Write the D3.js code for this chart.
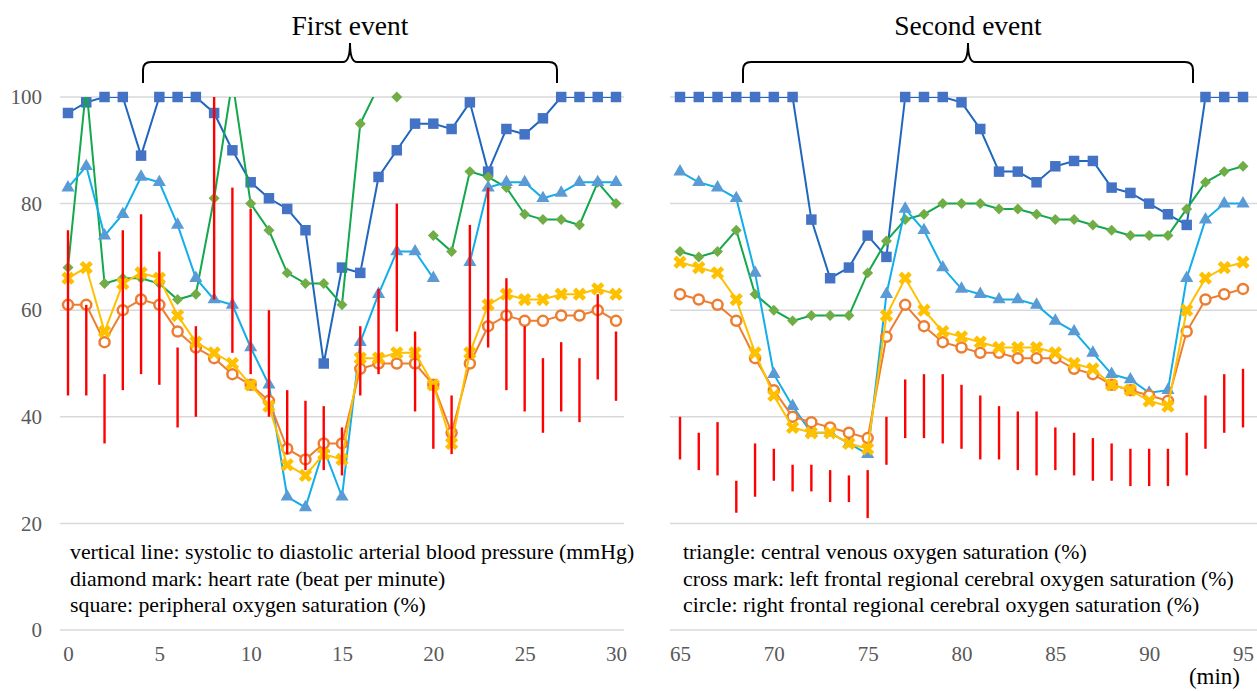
<!DOCTYPE html>
<html>
<head>
<meta charset="utf-8">
<script src="https://cdn.jsdelivr.net/npm/d3@7"></script>
<style>
  body { margin: 0; background: #fff; }
  svg { font-family: "Liberation Serif", "Times New Roman", serif; }
</style>
</head>
<body>
<div id="chart-area"></div>
<script>
// ---- data ----
var minutesA = d3.range(0, 31);
var minutesB = d3.range(65, 96);

// first event (0-30 min)
var spo2A = [97,99,100,100,89,100,100,100,97,90,84,81,79,75,50,68,67,85,90,95,95,94,99,86,94,93,96,100,100,100,100];
var hrA   = [68,102,65,66,66,65,62,63,81,103,80,75,67,65,65,61,95,102,100,null,74,71,86,85,83,78,77,77,76,84,80];
var svo2A = [83,87,74,78,85,84,76,66,62,61,53,46,25,23,34,25,54,63,71,71,66,null,69,83,84,84,81,82,84,84,84];
var leftA = [66,68,56,65,67,66,59,54,52,50,46,42,31,29,33,32,51,51,52,52,46,35,52,61,63,62,62,63,63,64,63];
var rightA= [61,61,54,60,62,61,56,53,51,48,46,43,34,32,35,35,49,50,50,50,46,37,50,57,59,58,58,59,59,60,58];
var sysA  = [75,61,48,75,78,71,53,57,100,83,79,60,45,43,42,38,57,64,80,56,46,44,76,83,66,57,51,54,51,63,56];
var diaA  = [44,44,35,45,48,46,38,40,62,52,48,40,33,30,30,29,44,48,56,41,34,33,51,53,45,41,37,41,39,47,43];

// second event (65-95 min)
var spo2B = [100,100,100,100,100,100,100,77,66,68,74,70,100,100,100,99,94,86,86,84,87,88,88,83,82,80,78,76,100,100,100];
var hrB   = [71,70,71,75,63,60,58,59,59,59,67,73,77,78,80,80,80,79,79,78,77,77,76,75,74,74,74,79,84,86,87];
var svo2B = [86,84,83,81,67,48,42,37,37,35,33,63,79,75,68,64,63,62,62,61,58,56,52,48,47,44.5,45,66,77,80,80];
var leftB = [69,68,67,62,52,44,38,37,37,35,34,59,66,60,56,55,54,53,53,53,52,50,49,46,45,43,42,60,66,68,69];
var rightB= [63,62,61,58,51,45,40,39,38,37,36,55,61,57,54,53,52,52,51,51,51,49,48,46,45,44,43,56,62,63,64];
var sysB  = [40,37,39,28,35,34,31,31,30,29,30,40,47,48,48,46,44,42,41,41,38,37,36,35,34,34,34,37,44,48,49];
var diaB  = [32,30,29,22,25,28,26,26,24,24,21,31,36,36,35,34,32,32,30,29,30,29,28,28,27,27,27,29,34,37,38];

var yTicks = [0, 20, 40, 60, 80, 100];
var xTicksA = [0, 5, 10, 15, 20, 25, 30];
var xTicksB = [65, 70, 75, 80, 85, 90, 95];

var legendLeft = [
  "vertical line: systolic to diastolic arterial blood pressure (mmHg)",
  "diamond mark: heart rate (beat per minute)",
  "square: peripheral oxygen saturation (%)"
];
var legendRight = [
  "triangle: central venous oxygen saturation (%)",
  "cross mark: left frontal regional cerebral oxygen saturation (%)",
  "circle: right frontal regional cerebral oxygen saturation (%)"
];

// ---- layout ----
var W = 1257, H = 691;
var serif = "Liberation Serif, Times New Roman, serif";
var svg = d3.select("#chart-area").append("svg")
    .attr("width", W).attr("height", H);

var y = d3.scaleLinear().domain([0, 100]).range([630, 97]);
var xA = d3.scaleLinear().domain([0, 30]).range([68, 616]);
var xB = d3.scaleLinear().domain([65, 95]).range([680, 1243]);

var panels = [
  { x: xA, mins: minutesA, grid: [60, 624], ticks: xTicksA, spo2: spo2A, hr: hrA, svo2: svo2A, left: leftA, right: rightA, sys: sysA, dia: diaA, id: "a" },
  { x: xB, mins: minutesB, grid: [670, 1257], ticks: xTicksB, spo2: spo2B, hr: hrB, svo2: svo2B, left: leftB, right: rightB, sys: sysB, dia: diaB, id: "b" }
];

// Y axis labels (left only)
var yAxis = d3.axisLeft(y).tickValues(yTicks).tickSize(0).tickPadding(18);
svg.append("g")
    .attr("transform", "translate(60,0)")
    .call(yAxis)
    .call(function(g){ g.select(".domain").remove(); })
    .selectAll("text")
        .attr("font-size", "21px")
        .attr("font-family", serif)
        .attr("fill", "#595959");

var sym = function(type, size, rot) {
    return { path: d3.symbol().type(type).size(size)(), rot: rot || 0 };
};
var markers = {
    square:  sym(d3.symbolSquare, 110),
    triangle: sym(d3.symbolTriangle, 75),
    diamond: sym(d3.symbolSquare, 60, 45),
    cross:   sym(d3.symbolCross, 110, 45)
};

panels.forEach(function(p){
    var g = svg.append("g");

    // gridlines
    g.selectAll(".grid").data(yTicks).enter().append("line")
        .attr("x1", p.grid[0]).attr("x2", p.grid[1])
        .attr("y1", function(d){ return y(d); })
        .attr("y2", function(d){ return y(d); })
        .attr("stroke", "#d9d9d9")
        .attr("stroke-width", 1.5);

    // x axis
    var xAxis = d3.axisBottom(p.x).tickValues(p.ticks).tickSize(0).tickPadding(16)
        .tickFormat(d3.format("d"));
    g.append("g")
        .attr("transform", "translate(0,630)")
        .call(xAxis)
        .call(function(a){ a.select(".domain").remove(); })
        .selectAll("text")
            .attr("font-size", "21px")
            .attr("font-family", serif)
            .attr("fill", "#595959");

    // clip to the plot area top (value 100)
    svg.append("clipPath").attr("id", "clip-" + p.id)
        .append("rect")
        .attr("x", p.grid[0] - 20).attr("y", y(100))
        .attr("width", p.grid[1] - p.grid[0] + 40).attr("height", y(0) - y(100));

    function series(vals, lineColor, marker, markColor) {
        var pts = p.mins.map(function(m, i){ return { m: m, v: vals[i] }; });
        var line = d3.line()
            .defined(function(d){ return d.v != null; })
            .x(function(d){ return p.x(d.m); })
            .y(function(d){ return y(d.v); });
        g.append("path")
            .datum(pts)
            .attr("clip-path", "url(#clip-" + p.id + ")")
            .attr("fill", "none")
            .attr("stroke", lineColor)
            .attr("stroke-width", 2)
            .attr("d", line);

        var shown = pts.filter(function(d){ return d.v != null && d.v <= 100; });
        if (marker == "circle") {
            g.selectAll(null).data(shown).enter().append("circle")
                .attr("cx", function(d){ return p.x(d.m); })
                .attr("cy", function(d){ return y(d.v); })
                .attr("r", 5)
                .attr("fill", "#fff")
                .attr("stroke", markColor)
                .attr("stroke-width", 2.5);
        } else {
            var mk = markers[marker];
            g.selectAll(null).data(shown).enter().append("path")
                .attr("d", mk.path)
                .attr("transform", function(d){
                    return "translate(" + p.x(d.m) + "," + y(d.v) + ") rotate(" + mk.rot + ")";
                })
                .attr("fill", markColor);
        }
    }

    series(p.spo2, "#1f67be", "square", "#4472c4");
    series(p.hr, "#13a84b", "diamond", "#70ad47");
    series(p.svo2, "#12aeea", "triangle", "#5b9bd5");
    series(p.right, "#ed7d31", "circle", "#ed7d31");
    series(p.left, "#ffc000", "cross", "#ffc000");

    // blood pressure: systolic to diastolic
    g.selectAll(null).data(p.mins).enter().append("line")
        .attr("x1", function(d){ return p.x(d); })
        .attr("x2", function(d){ return p.x(d); })
        .attr("y1", function(d, i){ return y(p.sys[i]); })
        .attr("y2", function(d, i){ return y(p.dia[i]); })
        .attr("stroke", "#ff0000")
        .attr("stroke-width", 2.4);
});

// braces + titles
function brace(x0, xc, x1) {
    var yb = 83, yl = 62, yt = 43;
    return "M" + x0 + "," + yb + " L" + x0 + "," + (yl + 8) +
        " Q" + x0 + "," + yl + " " + (x0 + 8) + "," + yl +
        " L" + (xc - 7) + "," + yl +
        " Q" + xc + "," + yl + " " + xc + "," + yt +
        " Q" + xc + "," + yl + " " + (xc + 7) + "," + yl +
        " L" + (x1 - 8) + "," + yl +
        " Q" + x1 + "," + yl + " " + x1 + "," + (yl + 8) +
        " L" + x1 + "," + yb;
}
var events = [
    { title: "First event", x0: 143, xc: 350, x1: 557 },
    { title: "Second event", x0: 743, xc: 968, x1: 1193 }
];
events.forEach(function(e){
    svg.append("path")
        .attr("d", brace(e.x0, e.xc, e.x1))
        .attr("fill", "none")
        .attr("stroke", "#000")
        .attr("stroke-width", 2);
    svg.append("text")
        .attr("x", e.xc).attr("y", 35)
        .attr("text-anchor", "middle")
        .attr("font-size", "27.5px")
        .text(e.title);
});

// legend text
function legendBlock(lines, x) {
    lines.forEach(function(t, i){
        svg.append("text")
            .attr("x", x).attr("y", 559 + i * 26.5)
            .attr("font-size", "21.8px")
            .attr("fill", "#000")
            .text(t);
    });
}
legendBlock(legendLeft, 70);
legendBlock(legendRight, 683);

svg.append("text")
    .attr("x", 1240).attr("y", 684)
    .attr("text-anchor", "end")
    .attr("font-size", "23px")
    .text("(min)");
</script>
</body>
</html>
